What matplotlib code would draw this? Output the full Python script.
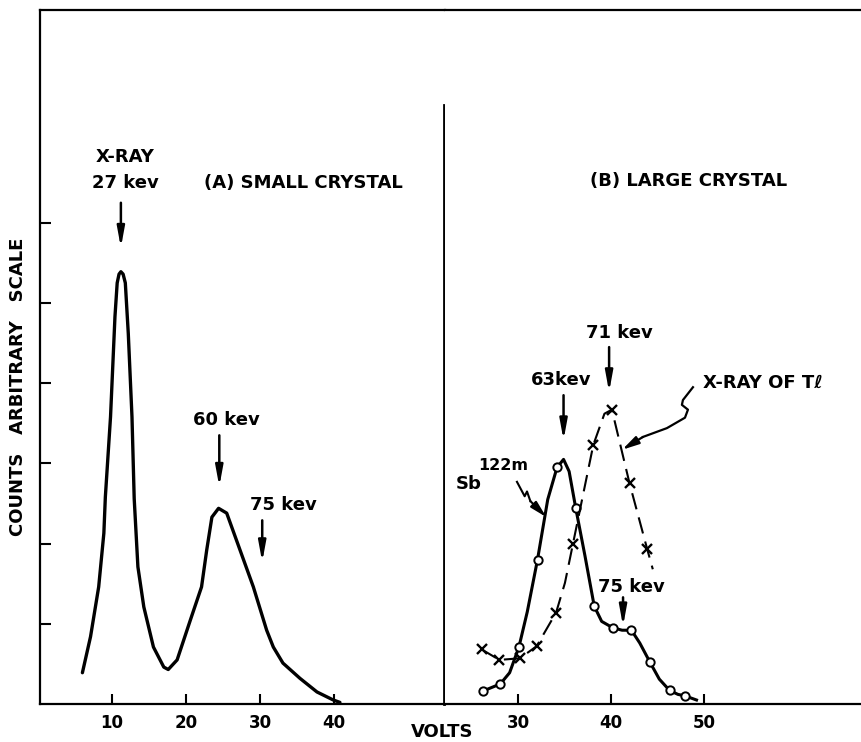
import matplotlib
matplotlib.use("Agg")
import matplotlib.pyplot as plt

plt.rcParams['font.family'] = ['DejaVu Sans']
plt.rcParams['font.weight'] = 'bold'

# ---------------- data ----------------
# (A) small crystal: continuous spectrum
a_volts = [6.0, 7.1, 8.2, 8.9, 9.1, 9.8, 10.4, 10.7, 10.95, 11.2, 11.5, 11.8, 12.2,
           12.7, 13.0, 13.5, 14.3, 15.6, 17.0, 17.6, 18.8, 20.6, 22.1, 22.8, 23.5,
           24.4, 25.5, 27.3, 29.1, 30.9, 31.8, 33.1, 35.4, 37.7, 39.9, 40.8]
a_counts = [0.39, 0.84, 1.46, 2.13, 2.58, 3.58, 4.83, 5.25, 5.36, 5.39, 5.36, 5.25, 4.62,
            3.58, 2.56, 1.71, 1.21, 0.71, 0.46, 0.43, 0.55, 1.05, 1.46, 1.92, 2.33,
            2.44, 2.38, 1.92, 1.46, 0.92, 0.71, 0.51, 0.32, 0.15, 0.05, 0.02]

# (B) large crystal: Sb122m measured points (circles)
sb_pts_volts = [26.2, 28.1, 30.1, 32.1, 34.2, 36.2, 38.2, 40.2, 42.2, 44.2, 46.3, 48.0]
sb_pts_counts = [0.16, 0.25, 0.71, 1.80, 2.95, 2.45, 1.22, 0.95, 0.92, 0.52, 0.17, 0.10]
# Sb122m drawn curve
sb_curve_volts = [26.2, 28.1, 29.1, 30.1, 31.0, 32.1, 33.2, 34.2, 34.9, 35.5, 36.2, 37.2,
                  38.2, 39.0, 40.2, 41.2, 42.2, 43.1, 44.2, 45.2, 46.3, 47.2, 48.0, 49.2]
sb_curve_counts = [0.16, 0.25, 0.39, 0.71, 1.15, 1.80, 2.55, 2.95, 3.05, 2.90, 2.45, 1.85,
                   1.22, 1.03, 0.95, 0.92, 0.92, 0.76, 0.52, 0.31, 0.17, 0.12, 0.10, 0.05]

# (B) X-ray of Tl measured points (x) and drawn dashed curve
tl_pts_volts = [26.1, 28.0, 30.2, 32.0, 34.1, 35.9, 38.1, 40.1, 42.0, 43.9]
tl_pts_counts = [0.68, 0.55, 0.57, 0.72, 1.14, 1.99, 3.23, 3.67, 2.75, 1.93]
tl_curve_volts = [26.1, 28.0, 30.2, 32.0, 34.1, 35.05, 35.9, 38.1, 39.3, 40.1, 42.0, 43.9, 44.5]
tl_curve_counts = [0.68, 0.55, 0.57, 0.72, 1.14, 1.51, 1.99, 3.23, 3.62, 3.67, 2.75, 1.93, 1.68]

a_xticks = [10, 20, 30, 40]
b_xticks = [30, 40, 50]
y_ticks = [1, 2, 3, 4, 5, 6]

# ---------------- figure ----------------
W, H = 862, 742
fig = plt.figure(figsize=(W / 100, H / 100), dpi=100)
fig.patch.set_facecolor('white')

bottom_px, top_px = 704, 10
ax_h = (bottom_px - top_px) / H
ax_b = (H - bottom_px) / H
axA = fig.add_axes([40 / W, ax_b, 405 / W, ax_h])
axB = fig.add_axes([445 / W, ax_b, 417 / W, ax_h])

ymax = (bottom_px - top_px) / 80.2
axA.set_xlim(0.27, 0.27 + 405 / 7.4)
axB.set_xlim(22.15, 67.0)
for ax in (axA, axB):
    ax.set_ylim(0, ymax)
    for s in ax.spines.values():
        s.set_linewidth(1.6)

axA.spines['right'].set_visible(False)
axB.spines['left'].set_visible(False)
axB.spines['right'].set_visible(False)

tick_kw = dict(direction='in', length=7, width=1.5, labelsize=12, pad=7)
axA.set_xticks(a_xticks)
axB.set_xticks(b_xticks)
axA.tick_params(axis='x', **tick_kw)
axB.tick_params(axis='x', **tick_kw)
axA.set_yticks(y_ticks)
axA.tick_params(axis='y', direction='in', length=8, width=1.5, labelleft=False)
axB.set_yticks([])
for ax in (axA, axB):
    for lab in ax.get_xticklabels():
        lab.set_fontweight('bold')

# divider between panels
axA.axvline(axA.get_xlim()[1] - 0.1, ymin=0, ymax=((bottom_px - 105) / 80.2) / ymax,
            color='k', lw=2.0, clip_on=False)

# ---------------- curves ----------------
axA.plot(a_volts, a_counts, color='k', lw=2.4, solid_joinstyle='round',
         solid_capstyle='round')

axB.plot(sb_curve_volts, sb_curve_counts, color='k', lw=2.2, solid_joinstyle='round')
axB.plot(sb_pts_volts, sb_pts_counts, linestyle='none', marker='o', ms=6,
         mfc='white', mec='k', mew=1.4)
axB.plot(tl_curve_volts, tl_curve_counts, color='k', lw=1.5, dashes=(8, 4))
axB.plot(tl_pts_volts, tl_pts_counts, linestyle='none', marker='x', ms=7,
         mec='k', mew=1.7)

# ---------------- annotations ----------------
def down_arrow(ax, x, y0, y1):
    ax.annotate('', xy=(x, y1), xytext=(x, y0),
                arrowprops=dict(arrowstyle='-|>,head_length=1.2,head_width=0.22',
                                lw=1.8, color='k', shrinkA=0, shrinkB=0))

fs = 13
axA.text(11.76, 6.82, 'X-RAY', ha='center', va='center', fontsize=fs, fontweight='bold')
axA.text(11.76, 6.50, '27 kev', ha='center', va='center', fontsize=fs, fontweight='bold')
down_arrow(axA, 11.2, 6.25, 5.69)
axA.text(35.8, 6.50, '(A) SMALL CRYSTAL', ha='center', va='center', fontsize=fs,
         fontweight='bold')
axA.text(25.4, 3.54, '60 kev', ha='center', va='center', fontsize=fs, fontweight='bold')
down_arrow(axA, 24.5, 3.35, 2.71)
axA.text(33.1, 2.48, '75 kev', ha='center', va='center', fontsize=fs, fontweight='bold')
down_arrow(axA, 30.3, 2.29, 1.77)

axB.text(48.3, 6.52, '(B) LARGE CRYSTAL', ha='center', va='center', fontsize=fs,
         fontweight='bold')
axB.text(40.9, 4.63, '71 kev', ha='center', va='center', fontsize=fs, fontweight='bold')
down_arrow(axB, 39.8, 4.45, 3.89)
axB.text(34.6, 4.04, '63kev', ha='center', va='center', fontsize=fs, fontweight='bold')
down_arrow(axB, 34.9, 3.85, 3.29)
axB.text(49.9, 4.0, 'X-RAY OF T\u2113', ha='left', va='center', fontsize=fs,
         fontweight='bold')
axB.text(42.2, 1.46, '75 kev', ha='center', va='center', fontsize=fs, fontweight='bold')
down_arrow(axB, 41.3, 1.33, 0.97)
axB.text(24.7, 2.74, 'Sb', ha='center', va='center', fontsize=fs, fontweight='bold')
axB.text(28.4, 2.98, '122m', ha='center', va='center', fontsize=11.5, fontweight='bold')

# squiggly pointer arrows
tl_sq_x = [48.82, 47.74, 47.63, 48.28, 47.96, 46.02, 43.44]
tl_sq_y = [3.95, 3.79, 3.73, 3.67, 3.57, 3.44, 3.33]
axB.plot(tl_sq_x, tl_sq_y, color='k', lw=1.6, solid_joinstyle='round')
axB.annotate('', xy=(41.2, 3.17), xytext=(tl_sq_x[-1], tl_sq_y[-1]),
             arrowprops=dict(arrowstyle='-|>,head_length=1.0,head_width=0.25',
                             lw=1.6, color='k', shrinkA=0, shrinkB=0))
sb_sq_x = [29.89, 30.72, 30.97, 31.33]
sb_sq_y = [2.77, 2.59, 2.65, 2.53]
axB.plot(sb_sq_x, sb_sq_y, color='k', lw=1.5, solid_joinstyle='round')
axB.annotate('', xy=(33.05, 2.33), xytext=(sb_sq_x[-1], sb_sq_y[-1]),
             arrowprops=dict(arrowstyle='-|>,head_length=1.0,head_width=0.25',
                             lw=1.5, color='k', shrinkA=0, shrinkB=0))

# axis titles
fig.text(442 / W, 1 - 732 / H, 'VOLTS', ha='center', va='center', fontsize=13,
         fontweight='bold')
fig.text(18 / W, 1 - 387 / H, 'COUNTS   ARBITRARY   SCALE', ha='center', va='center',
         rotation=90, fontsize=13, fontweight='bold')

fig.savefig('out.png', dpi=100, facecolor='white')
